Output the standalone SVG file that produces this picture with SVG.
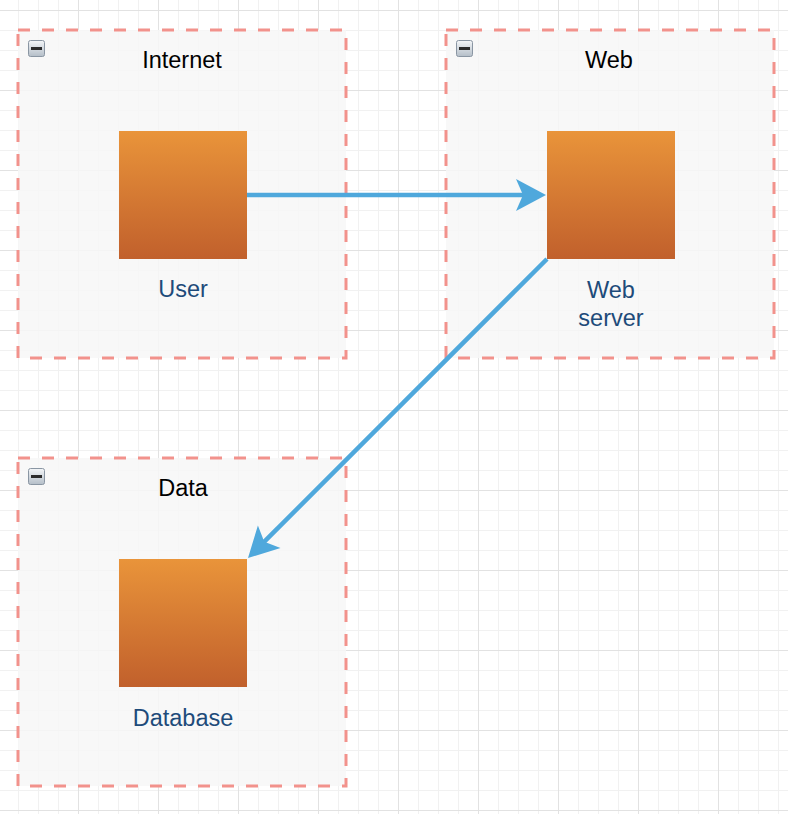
<svg xmlns="http://www.w3.org/2000/svg" width="788" height="814" viewBox="0 0 788 814">
  <defs>
    <style>
      .container { fill: #f7f7f7; fill-opacity: 0.85; stroke: #f2928c; stroke-width: 3; stroke-dasharray: 12 12; }
      .title { font-family: "Liberation Sans", Arial, sans-serif; font-size: 23.5px; fill: #000000; text-anchor: middle; }
      .label { font-family: "Liberation Sans", Arial, sans-serif; font-size: 23.5px; fill: #1e4b7a; text-anchor: middle; }
      .box { fill: url(#orange); }
      .edge { fill: none; stroke: #4fa8dc; stroke-width: 4.5; }
      .icon { fill: url(#iconGrad); stroke: #8a96a3; stroke-width: 1; }
    </style>
    <linearGradient id="orange" x1="0" y1="0" x2="0" y2="1">
      <stop offset="0" stop-color="#e9943a"/>
      <stop offset="1" stop-color="#c1602c"/>
    </linearGradient>
    <linearGradient id="iconGrad" x1="0" y1="0" x2="0" y2="1">
      <stop offset="0" stop-color="#f4f6f8"/>
      <stop offset="1" stop-color="#b4bec8"/>
    </linearGradient>
    <pattern id="grid" patternUnits="userSpaceOnUse" x="-2" y="10" width="80" height="80">
      <rect x="0" y="0" width="80" height="80" fill="#ffffff"/>
      <path d="M20.5,0 V80 M40.5,0 V80 M60.5,0 V80 M0,20.5 H80 M0,40.5 H80 M0,60.5 H80" stroke="#f1f1f1" stroke-width="1"/>
      <path d="M0.5,0 V80 M0,0.5 H80" stroke="#e2e2e2" stroke-width="1"/>
    </pattern>
    <marker id="arrow" markerUnits="userSpaceOnUse" markerWidth="40" markerHeight="40" refX="0" refY="0" orient="auto" overflow="visible">
      <path d="M21,0 L-9,-16 L-2,0 L-9,16 Z" fill="#4fa8dc"/>
    </marker>
  </defs>

  <rect x="0" y="0" width="788" height="814" fill="url(#grid)"/>

  <g id="internet">
    <rect class="container" x="18" y="30" width="328" height="328"/>
    <rect class="icon" x="28.5" y="40.5" width="16" height="16" rx="2"/>
    <rect x="31" y="47" width="11" height="3" fill="#2b2b2b"/>
    <text class="title" x="182" y="68">Internet</text>
  </g>

  <g id="web">
    <rect class="container" x="446" y="30" width="328" height="328"/>
    <rect class="icon" x="456.5" y="40.5" width="16" height="16" rx="2"/>
    <rect x="459" y="47" width="11" height="3" fill="#2b2b2b"/>
    <text class="title" x="609" y="68">Web</text>
  </g>

  <g id="data">
    <rect class="container" x="18" y="458" width="328" height="328"/>
    <rect class="icon" x="28.5" y="468.5" width="16" height="16" rx="2"/>
    <rect x="31" y="475" width="11" height="3" fill="#2b2b2b"/>
    <text class="title" x="183" y="496">Data</text>
  </g>

  <g id="user">
    <rect class="box" x="119" y="131" width="128" height="128"/>
    <text class="label" x="183" y="297">User</text>
  </g>

  <g id="webserver">
    <rect class="box" x="547" y="131" width="128" height="128"/>
    <text class="label" x="611" y="298">Web</text>
    <text class="label" x="611" y="326">server</text>
  </g>

  <g id="database">
    <rect class="box" x="119" y="559" width="128" height="128"/>
    <text class="label" x="183" y="726">Database</text>
  </g>

  <g id="connectors">
    <path class="edge" d="M247,195 L525,195" marker-end="url(#arrow)"/>
    <path class="edge" d="M547,259 L262.85,543.15" marker-end="url(#arrow)"/>
  </g>
</svg>
